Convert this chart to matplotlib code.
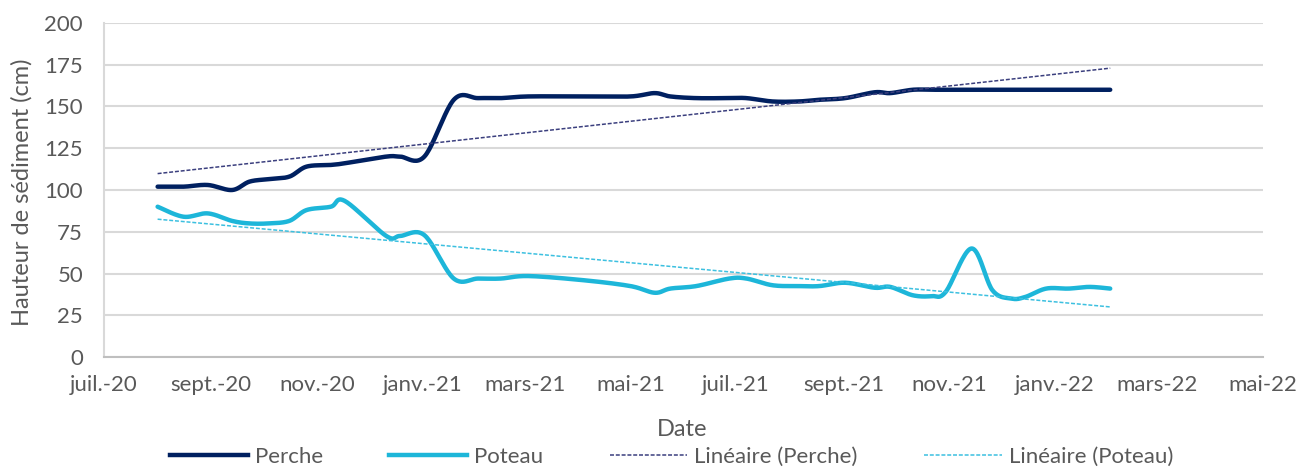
import numpy as np
import pandas as pd
import matplotlib
matplotlib.use("Agg")
import matplotlib.pyplot as plt
import matplotlib.dates as mdates
from matplotlib.lines import Line2D

# --- data ---
dates = ["2020-08-01", "2020-08-16", "2020-08-30", "2020-09-13", "2020-09-23",
         "2020-10-04", "2020-10-16", "2020-10-26", "2020-11-09", "2020-11-17",
         "2020-12-11", "2020-12-19", "2021-01-02", "2021-01-19", "2021-02-02",
         "2021-02-15", "2021-03-03", "2021-04-04", "2021-05-01", "2021-05-15",
         "2021-05-24", "2021-06-08", "2021-06-27", "2021-07-07", "2021-07-22",
         "2021-08-06", "2021-08-18", "2021-09-02", "2021-09-19", "2021-09-28",
         "2021-10-11", "2021-10-22", "2021-10-30", "2021-11-14", "2021-11-26",
         "2021-12-07", "2021-12-15", "2021-12-27", "2022-01-09", "2022-01-21",
         "2022-02-02"]

perche = [102, 102, 103, 100, 105, 106.5, 108, 114, 115, 116,
          120, 120, 120, 154, 155, 155, 156, 156, 156, 158,
          156, 155, 155, 155, 153, 153, 154, 155, 158.5, 158,
          160, 160, 160, 160, 160, 160, 160, 160, 160, 160,
          160]

poteau = [90, 84, 86, 81.5, 80, 80, 81.5, 88, 90, 93.5,
          72.5, 72.5, 73, 47, 47, 47, 48.5, 46, 42.5, 38.5,
          41, 42.5, 47, 47, 43, 42.5, 42.5, 44.5, 41.5, 42,
          37, 36.5, 39, 65, 40, 35, 36, 41, 41, 42,
          41]

tick_dates = ["2020-07-01", "2020-09-01", "2020-11-01", "2021-01-01", "2021-03-01",
              "2021-05-01", "2021-07-01", "2021-09-01", "2021-11-01", "2022-01-01",
              "2022-03-01", "2022-05-01"]
tick_labels = ["juil.-20", "sept.-20", "nov.-20", "janv.-21", "mars-21", "mai-21",
               "juil.-21", "sept.-21", "nov.-21", "janv.-22", "mars-22", "mai-22"]

y_ticks = [0, 25, 50, 75, 100, 125, 150, 175, 200]

NAVY = "#002060"
CYAN = "#1DB6D9"
TREND_NAVY = "#3B3F7E"
TREND_CYAN = "#3CC0E0"
GREY = "#595959"

plt.rcParams["font.family"] = ["Lato", "DejaVu Sans"]


def smooth(x, y, n=24):
    """Excel-style smoothed line: cubic Bezier through each point."""
    x = np.asarray(x, float)
    y = np.asarray(y, float)
    px = np.concatenate([[x[0]], x, [x[-1]]])
    py = np.concatenate([[y[0]], y, [y[-1]]])
    t = np.linspace(0, 1, n)
    xs, ys = [], []
    for i in range(1, len(px) - 2):
        p0 = np.array([px[i - 1], py[i - 1]])
        p1 = np.array([px[i], py[i]])
        p2 = np.array([px[i + 1], py[i + 1]])
        p3 = np.array([px[i + 2], py[i + 2]])
        c1 = p1 + (p2 - p0) / 6
        c2 = p2 - (p3 - p1) / 6
        b = ((1 - t) ** 3)[:, None] * p1 + (3 * (1 - t) ** 2 * t)[:, None] * c1 \
            + (3 * (1 - t) * t ** 2)[:, None] * c2 + (t ** 3)[:, None] * p2
        xs.append(b[:, 0])
        ys.append(b[:, 1])
    return np.concatenate(xs), np.concatenate(ys)


x = mdates.date2num(pd.to_datetime(dates))

fig = plt.figure(figsize=(12.99, 4.68), dpi=100)
ax = fig.add_axes([0.080, 0.237, 0.892, 0.714])

for vals, col in [(perche, NAVY), (poteau, CYAN)]:
    sx, sy = smooth(x, vals)
    ax.plot(sx, sy, color=col, lw=3.2, solid_capstyle="round", zorder=3)

# linear trend lines (least squares, like Excel)
DASH = (0, (2.6, 1.2))
for vals, col in [(perche, TREND_NAVY), (poteau, TREND_CYAN)]:
    a, b = np.polyfit(x, vals, 1)
    ax.plot([x[0], x[-1]], [a * x[0] + b, a * x[-1] + b], color=col,
            lw=1.1, linestyle=DASH, zorder=4)

ax.set_xlim(mdates.date2num(pd.Timestamp(tick_dates[0])),
            mdates.date2num(pd.Timestamp(tick_dates[-1])))
ax.set_ylim(0, 200)
ax.set_xticks(mdates.date2num(pd.to_datetime(tick_dates)))
ax.set_xticklabels(tick_labels)
ax.set_yticks(y_ticks)
ax.tick_params(axis="both", length=0, labelsize=16, colors=GREY)
ax.tick_params(axis="x", pad=13)
ax.tick_params(axis="y", pad=15)

ax.grid(axis="y", color="#D9D9D9", lw=1.5)
ax.set_axisbelow(True)
for s in ["top", "right"]:
    ax.spines[s].set_visible(False)
ax.spines["left"].set_color("#D9D9D9")
ax.spines["left"].set_linewidth(1.5)
ax.spines["bottom"].set_color("#BFBFBF")
ax.spines["bottom"].set_linewidth(1.5)

fig.text(0.017, 0.59, "Hauteur de sédiment (cm)", rotation=90, ha="center",
         va="center", fontsize=17, color=GREY)
fig.text(0.525, 0.083, "Date", ha="center", va="center", fontsize=17, color=GREY)

handles = [
    Line2D([], [], color=NAVY, lw=3.2),
    Line2D([], [], color=CYAN, lw=3.2),
    Line2D([], [], color=TREND_NAVY, lw=1.1, linestyle=DASH),
    Line2D([], [], color=TREND_CYAN, lw=1.1, linestyle=DASH),
]
labels = ["Perche", "Poteau", "Linéaire (Perche)", "Linéaire (Poteau)"]
leg = fig.legend(handles, labels, loc="center", bbox_to_anchor=(0.517, 0.024),
                 ncol=4, frameon=False, fontsize=16, handlelength=3.5,
                 columnspacing=3.0, handletextpad=0.3, borderpad=0)
for t in leg.get_texts():
    t.set_color(GREY)

fig.savefig("out.png", dpi=100)
